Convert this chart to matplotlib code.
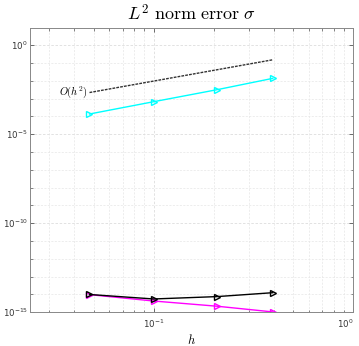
import numpy as np
import matplotlib.pyplot as plt
from matplotlib.ticker import LogLocator, NullFormatter, FixedLocator

# mesh sizes and errors
h = [0.0477, 0.1, 0.2075, 0.396]
err_cyan = [1.35e-4, 6.6e-4, 3.1e-3, 1.35e-2]
err_magenta = [9.8e-15, 4.3e-15, 2.2e-15, 1.05e-15]
err_black = [1.0e-14, 5.6e-15, 7.6e-15, 1.26e-14]
ref_coef = 0.95  # O(h^2) guide line

yticks = [1e-15, 1e-10, 1e-5, 1e0]
ytick_labels = [r'$10^{-15}$', r'$10^{-10}$', r'$10^{-5}$', r'$10^{0}$']
xticks = [1e-1, 1e0]
xtick_labels = [r'$10^{-1}$', r'$10^{0}$']

fig = plt.figure(figsize=(3.59, 3.46), dpi=100)
ax = fig.add_axes([0.0836, 0.0974, 0.8997, 0.8208])

ax.set_xscale('log')
ax.set_yscale('log')

ref = [ref_coef * v ** 2 for v in h]
ax.plot([h[0], h[-1]], [ref[0], ref[-1]], color='#333333', lw=1.0, ls=(0, (2, 0.8)))
ax.text(h[0] * 0.98, ref[0], r'$O(h^2)$', fontsize=7.5, ha='right', va='center',
        math_fontfamily='cm')

mk = dict(marker='>', markersize=5, markerfacecolor='none', markeredgewidth=1.0, lw=1.0)
ax.plot(h, err_cyan, color='cyan', **mk)
ax.plot(h, err_magenta, color='magenta', **mk)
ax.plot(h, err_black, color='black', **mk)

ax.set_xlim(0.024, 1)
ax.set_ylim(1e-15, 10 ** 0.94)

ax.xaxis.set_major_locator(FixedLocator(xticks))
ax.set_xticklabels(xtick_labels)
ax.xaxis.set_minor_locator(LogLocator(base=10, subs=np.arange(2, 10)))
ax.xaxis.set_minor_formatter(NullFormatter())
ax.yaxis.set_major_locator(FixedLocator(yticks))
ax.set_yticklabels(ytick_labels)
ax.yaxis.set_minor_locator(FixedLocator([10.0 ** k for k in range(-15, 1)]))
ax.yaxis.set_minor_formatter(NullFormatter())

for lab in ax.get_xticklabels() + ax.get_yticklabels():
    lab.set_fontsize(6.2)
    lab.set_color('#333333')
ax.get_xticklabels()[-1].set_horizontalalignment('right')

ax.tick_params(which='both', direction='in', top=True, right=True, color='#555555')
ax.tick_params(which='major', length=3, width=0.6, pad=1.5)
ax.tick_params(which='minor', length=1.8, width=0.5)
ax.tick_params(axis='x', which='major', pad=4)
for s in ax.spines.values():
    s.set_color('#888888')
    s.set_linewidth(0.7)

ax.grid(True, which='major', color='#dddddd', ls=(0, (3, 2)), lw=0.6)
ax.grid(True, which='minor', color='#e6e6e6', ls=(0, (3, 2)), lw=0.5)
ax.set_axisbelow(True)

ax.set_title(r'$L^2\ \mathrm{norm\ error}\ \sigma$', fontsize=13, math_fontfamily='cm', pad=6)
ax.set_xlabel(r'$h$', fontsize=9, math_fontfamily='cm', labelpad=2)

fig.savefig('out.png', dpi=100)
